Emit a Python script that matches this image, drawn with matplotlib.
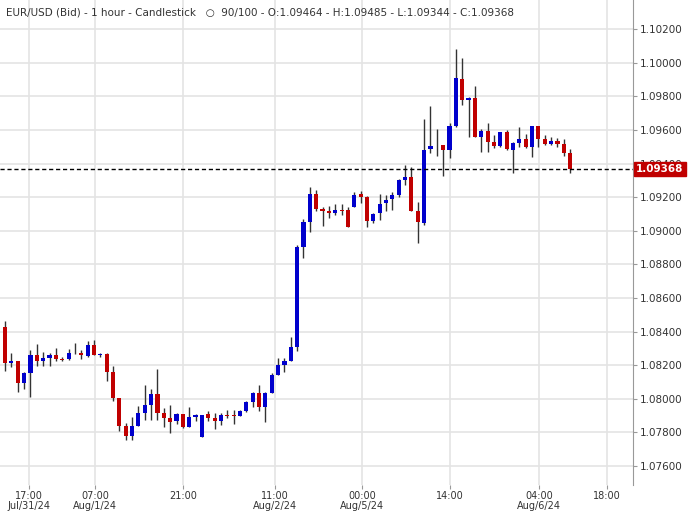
import matplotlib
matplotlib.use("Agg")
import matplotlib.pyplot as plt

# === DATA (EUR/USD 1h candles) ===
opens = [1.08425, 1.08215, 1.08225, 1.08092, 1.08156, 1.08261, 1.08227, 1.08245, 1.08261, 1.08239,
         1.08235, 1.08271, 1.08273, 1.08257, 1.08322, 1.08263, 1.08269, 1.08162, 1.08005, 1.07839,
         1.07776, 1.07839, 1.07918, 1.07964, 1.08029, 1.07916, 1.07883, 1.07865, 1.07910, 1.07835,
         1.07892, 1.07771, 1.07910, 1.07883, 1.07865, 1.07902, 1.07902, 1.07900, 1.07928, 1.07978,
         1.08037, 1.07954, 1.08037, 1.08142, 1.08201, 1.08227, 1.08308, 1.08906, 1.09054, 1.09219,
         1.09128, 1.09118, 1.09108, 1.09124, 1.09124, 1.09144, 1.09219, 1.09203, 1.09060, 1.09104,
         1.09163, 1.09187, 1.09213, 1.09302, 1.09322, 1.09120, 1.09048, 1.09488, 1.09508, 1.09510,
         1.09481, 1.09623, 1.09903, 1.09778, 1.09790, 1.09560, 1.09596, 1.09530, 1.09504, 1.09588,
         1.09481, 1.09524, 1.09546, 1.09500, 1.09623, 1.09546, 1.09516, 1.09534, 1.09516, 1.09464]
closes = [1.08215, 1.08225, 1.08092, 1.08156, 1.08261, 1.08227, 1.08245, 1.08261, 1.08239, 1.08233,
          1.08273, 1.08275, 1.08263, 1.08322, 1.08263, 1.08267, 1.08162, 1.08007, 1.07839, 1.07776,
          1.07839, 1.07916, 1.07964, 1.08029, 1.07916, 1.07883, 1.07859, 1.07910, 1.07835, 1.07892,
          1.07904, 1.07904, 1.07883, 1.07865, 1.07904, 1.07898, 1.07900, 1.07928, 1.07978, 1.08037,
          1.07954, 1.08037, 1.08142, 1.08201, 1.08227, 1.08308, 1.08906, 1.09054, 1.09219, 1.09132,
          1.09120, 1.09108, 1.09124, 1.09120, 1.09025, 1.09213, 1.09203, 1.09060, 1.09100, 1.09159,
          1.09183, 1.09213, 1.09302, 1.09322, 1.09120, 1.09054, 1.09481, 1.09504, 1.09510, 1.09481,
          1.09623, 1.09909, 1.09778, 1.09790, 1.09560, 1.09596, 1.09530, 1.09504, 1.09588, 1.09487,
          1.09524, 1.09546, 1.09500, 1.09623, 1.09546, 1.09516, 1.09534, 1.09516, 1.09465, 1.09368]
highs = [1.08463, 1.08275, 1.08225, 1.08162, 1.08290, 1.08326, 1.08280, 1.08275, 1.08304, 1.08251,
         1.08296, 1.08334, 1.08290, 1.08346, 1.08350, 1.08275, 1.08275, 1.08195, 1.08005, 1.07855,
         1.07890, 1.07958, 1.08083, 1.08059, 1.08178, 1.07946, 1.07964, 1.07918, 1.07910, 1.07951,
         1.07910, 1.07904, 1.07930, 1.07918, 1.07918, 1.07934, 1.07934, 1.07934, 1.07984, 1.08043,
         1.08083, 1.08043, 1.08152, 1.08241, 1.08241, 1.08370, 1.08915, 1.09068, 1.09262, 1.09243,
         1.09144, 1.09148, 1.09159, 1.09159, 1.09144, 1.09229, 1.09237, 1.09207, 1.09108, 1.09219,
         1.09213, 1.09229, 1.09306, 1.09391, 1.09378, 1.09169, 1.09665, 1.09742, 1.09604, 1.09510,
         1.09643, 1.10081, 1.10030, 1.09794, 1.09861, 1.09606, 1.09643, 1.09570, 1.09588, 1.09600,
         1.09530, 1.09615, 1.09576, 1.09623, 1.09623, 1.09570, 1.09560, 1.09552, 1.09546, 1.09485]
lows = [1.08168, 1.08187, 1.08043, 1.08057, 1.08013, 1.08197, 1.08197, 1.08197, 1.08227, 1.08227,
        1.08231, 1.08267, 1.08239, 1.08251, 1.08263, 1.08251, 1.08108, 1.07989, 1.07811, 1.07756,
        1.07756, 1.07839, 1.07871, 1.07871, 1.07871, 1.07835, 1.07799, 1.07849, 1.07825, 1.07835,
        1.07869, 1.07771, 1.07869, 1.07819, 1.07845, 1.07888, 1.07849, 1.07898, 1.07924, 1.07954,
        1.07930, 1.07859, 1.08037, 1.08142, 1.08162, 1.08227, 1.08286, 1.08840, 1.08995, 1.09120,
        1.09031, 1.09074, 1.09094, 1.09094, 1.09025, 1.09144, 1.09167, 1.09025, 1.09044, 1.09064,
        1.09120, 1.09124, 1.09203, 1.09272, 1.09120, 1.08925, 1.09034, 1.09461, 1.09447, 1.09328,
        1.09431, 1.09615, 1.09748, 1.09556, 1.09556, 1.09471, 1.09471, 1.09490, 1.09496, 1.09481,
        1.09346, 1.09500, 1.09490, 1.09437, 1.09496, 1.09510, 1.09510, 1.09496, 1.09447, 1.09344]

tick_pos = [3.8, 14.2, 28.0, 42.5, 56.2, 70.1, 84.1, 94.8]
tick_labels = ["17:00\nJul/31/24", "07:00\nAug/1/24", "21:00", "11:00\nAug/2/24",
               "00:00\nAug/5/24", "14:00", "04:00\nAug/6/24", "18:00"]
price_ticks = [1.076, 1.078, 1.080, 1.082, 1.084, 1.086, 1.088, 1.090,
               1.092, 1.094, 1.096, 1.098, 1.100, 1.102]
last_price = 1.09368

UP = "#0000cc"
DOWN = "#c00000"

fig = plt.figure(figsize=(6.93, 5.12), dpi=100)
ax = fig.add_axes([0.0, 27 / 512, 633 / 693, 485 / 512])

for i, (o, h, l, c) in enumerate(zip(opens, highs, lows, closes)):
    col = UP if c >= o else DOWN
    ax.vlines(i, l, h, color="#333333", linewidth=1.0, zorder=2)
    body = max(abs(c - o), 0.00003)
    ax.bar(i, body, width=0.65, bottom=min(o, c), color=col, zorder=3, linewidth=0)

ax.set_xlim(-0.8, 98.9)
ax.set_ylim(1.07487, 1.10373)
ax.set_xticks(tick_pos)
ax.set_xticklabels(tick_labels, fontsize=7, color="#333333", linespacing=1.0)
ax.yaxis.tick_right()
ax.set_yticks(price_ticks)
ax.set_yticklabels([f"{p:.5f}" for p in price_ticks], fontsize=7.5, color="#333333")
ax.tick_params(axis="y", length=3, color="#999999", pad=2)
ax.tick_params(axis="x", length=3, color="#999999", pad=1)
ax.grid(True, color="#e4e4e4", linewidth=1.2)
ax.set_axisbelow(True)
for s in ["top", "left", "bottom"]:
    ax.spines[s].set_visible(False)
ax.spines["right"].set_color("#999999")

ax.axhline(last_price, color="black", linestyle=(0, (3, 2)), linewidth=1, zorder=4)
ax.text(1.005, last_price, f"{last_price:.5f}", transform=ax.get_yaxis_transform(),
        ha="left", va="center", fontsize=7.5, color="white", fontweight="bold",
        bbox=dict(boxstyle="square,pad=0.2", facecolor=DOWN, edgecolor=DOWN), zorder=5)

ax.text(0.01, 0.985, "EUR/USD (Bid) - 1 hour - Candlestick   \u25cb  90/100 - O:1.09464 - H:1.09485 - L:1.09344 - C:1.09368",
        transform=ax.transAxes, ha="left", va="top", fontsize=7.5, color="#333333")

fig.savefig("out.png", dpi=100)
